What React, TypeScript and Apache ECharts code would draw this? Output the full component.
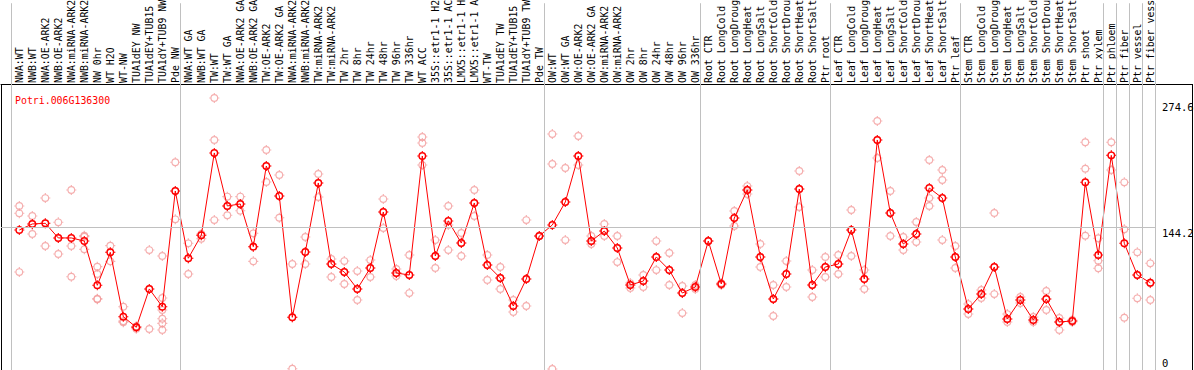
import React, { useEffect, useRef } from 'react';
import * as echarts from 'echarts';

const geneId = 'Potri.006G136300';

const categories = [
  'NWA:WT', 'NWB:WT', 'NWA:OE-ARK2', 'NWB:OE-ARK2', 'NWA:miRNA-ARK2', 'NWB:miRNA-ARK2',
  'NW 0hr', 'WT H2O', 'WT-NW', 'TUA1dEY NW', 'TUA1dEY+TUB15 NW', 'TUA1dY+TUB9 NW', 'Pde NW',
  'NWA:WT GA', 'NWB:WT GA', 'TW:WT', 'TW:WT GA', 'NWA:OE-ARK2 GA', 'NWB:OE-ARK2 GA',
  'TW:OE-ARK2', 'TW:OE-ARK2 GA', 'NWA:miRNA-ARK2 GA', 'NWB:miRNA-ARK2 GA', 'TW:miRNA-ARK2',
  'TW:miRNA-ARK2 GA', 'TW 2hr', 'TW 8hr', 'TW 24hr', 'TW 48hr', 'TW 96hr', 'TW 336hr',
  'WT ACC', '35S::etr1-1 H2O', '35S::etr1-1 ACC', 'LMX5::etr1-1 H2O', 'LMX5::etr1-1 ACC',
  'WT-TW', 'TUA1dEY TW', 'TUA1dEY+TUB15 TW', 'TUA1dY+TUB9 TW', 'Pde TW',
  'OW:WT', 'OW:WT GA', 'OW:OE-ARK2', 'OW:OE-ARK2 GA', 'OW:miRNA-ARK2', 'OW:miRNA-ARK2 GA',
  'OW 2hr', 'OW 8hr', 'OW 24hr', 'OW 48hr', 'OW 96hr', 'OW 336hr',
  'Root CTR', 'Root LongCold', 'Root LongDrought', 'Root LongHeat', 'Root LongSalt',
  'Root ShortCold', 'Root ShortDrought', 'Root ShortHeat', 'Root ShortSalt', 'Ptr root',
  'Leaf CTR', 'Leaf LongCold', 'Leaf LongDrought', 'Leaf LongHeat', 'Leaf LongSalt',
  'Leaf ShortCold', 'Leaf ShortDrought', 'Leaf ShortHeat', 'Leaf ShortSalt', 'Ptr leaf',
  'Stem CTR', 'Stem LongCold', 'Stem LongDrought', 'Stem LongHeat', 'Stem LongSalt',
  'Stem ShortCold', 'Stem ShortDrought', 'Stem ShortHeat', 'Stem ShortSalt',
  'Ptr shoot', 'Ptr xylem', 'Ptr phloem', 'Ptr fiber', 'Ptr vessel', 'Ptr fiber vessel',
];

const means = [
  141.3, 147.4, 148.1, 133.3, 133.3, 130.2, 85.5, 118.8, 53.8, 43.1,
  81.8, 63.9, 180.7, 112.8, 136.0, 219.1, 165.6, 167.6, 124.5, 205.9,
  175.7, 53.2, 119.1, 188.8, 107.0, 98.9, 81.8, 103.0, 159.5, 97.9,
  95.9, 216.0, 115.1, 150.4, 128.2, 168.6, 106.0, 92.9, 64.6, 91.9,
  135.3, 146.4, 169.6, 216.0, 130.2, 140.3, 123.2, 85.8, 89.8, 114.1,
  100.9, 77.7, 83.8, 130.2, 86.8, 153.4, 181.7, 114.1, 71.7, 96.9,
  182.7, 85.8, 104.0, 107.0, 141.3, 91.9, 232.2, 158.5, 127.2, 137.3,
  183.7, 173.6, 114.1, 61.6, 76.7, 104.0, 51.5, 70.7, 50.5, 71.7,
  48.5, 49.5, 189.5, 116.1, 216.7, 127.9, 95.9, 88.1,
];

const replicates = [
  [165.6, 158.2, 98.9], [155.5, 137.3, 147.4], [173.6, 125.2, 148.1], [149.1, 117.1, 133.3],
  [181.7, 125.2, 94.2], [135.6, 121.8, 134.6], [104.3, 96.9, 72.0, 71.4], [125.5, 109.7, 118.8],
  [63.9, 48.2, 49.3], [43.7, 41.7, 43.9], [121.1, 41.4, 81.8], [115.1, 72.7, 60.6, 51.8, 47.1, 40.4],
  [209.7, 152.1, 180.7], [127.9, 96.9, 112.8], [137.3, 132.5, 136.0], [274.6, 232.2, 151.4],
  [175.0, 156.2, 165.6], [175.0, 160.8, 167.6], [138.0, 109.7, 124.5], [222.1, 189.8, 205.9],
  [196.9, 153.7, 175.7], [107.0, 1.3, 53.2], [134.3, 107.0, 119.1], [197.9, 174.6, 188.8],
  [112.1, 93.9, 107.0], [110.0, 86.8, 98.9], [99.9, 70.7, 81.8], [111.0, 93.9, 103.0],
  [172.6, 143.3, 159.5], [102.0, 94.9, 97.9], [116.1, 77.7, 95.9], [235.2, 229.2, 206.9],
  [131.2, 103.0, 115.1], [165.6, 146.4, 121.1], [138.3, 115.1, 128.2], [181.7, 155.5, 168.6],
  [116.1, 90.9, 106.0], [104.0, 81.8, 92.9], [70.7, 58.6, 64.6], [151.4, 64.6, 91.9],
  [135.3, 135.3, 135.3], [238.2, 208.0, 1.0], [203.9, 131.2, 169.6], [236.2, 206.9, 216.0],
  [135.3, 127.2, 130.2], [147.4, 135.3, 140.3], [135.3, 109.0, 123.2], [87.8, 82.8, 85.8],
  [95.9, 83.8, 89.8], [130.2, 100.9, 114.1], [118.1, 85.8, 100.9], [84.8, 57.5, 77.7],
  [85.8, 81.8, 83.8], [130.2, 130.2, 130.2], [87.8, 85.8, 86.8], [160.5, 145.4, 153.4],
  [185.7, 177.7, 181.7], [127.2, 104.0, 114.1], [85.8, 54.5, 71.7], [110.0, 83.8, 96.9],
  [200.9, 164.5, 182.7], [100.9, 73.7, 85.8], [114.1, 93.9, 104.0], [116.1, 96.9, 107.0],
  [161.5, 115.1, 141.3], [100.9, 81.8, 91.9], [251.4, 214.0, 232.2], [180.7, 135.3, 158.5],
  [134.3, 121.1, 127.2], [149.4, 129.2, 137.3], [212.0, 173.6, 165.6], [201.9, 191.8, 131.2],
  [125.2, 103.0, 114.1], [66.6, 56.5, 61.6], [80.8, 72.7, 76.7], [158.5, 76.7, 104.0],
  [56.5, 48.5, 51.5], [73.7, 67.6, 70.7], [53.5, 48.5, 50.5], [79.8, 60.6, 71.7],
  [52.5, 40.4, 48.5], [50.5, 48.5, 49.5], [229.9, 203.2, 135.6], [133.0, 110.3, 102.7],
  [229.9, 201.9, 216.7], [189.5, 142.0, 52.8], [118.8, 72.4, 95.9], [107.7, 87.5, 70.7],
];

// group separators (category-index units) and the reference values printed on the right
const groupBoundaries = [-0.64, 12.36, 40.36, 52.36, 62.36, 72.36, 83.36, 84.36, 85.36, 86.36, 87.36];
const refValues = [0, 144.2, 274.6];

// axis extents (category index units on x, expression on y)
const X_MAIN_MIN = -1.408;
const X_MAIN_MAX = 90.208;
const X_HEAD_MIN = -1;
const X_HEAD_MAX = 90;
const Y_MIN = 0;
const Y_MAX = 288.7;
const REF_END = 87.36;

const MONO = 'DejaVu Sans Mono';

const repSymbol =
  'path://M3 10A7 7 0 1 0 17 10A7 7 0 1 0 3 10ZM5 10A5 5 0 1 1 15 10A5 5 0 1 1 5 10ZM9 1H11V3H9ZM9 17H11V19H9ZM1 9H3V11H1ZM17 9H19V11H17Z';
const meanSymbol =
  'path://M2.5 10A7.5 7.5 0 1 0 17.5 10A7.5 7.5 0 1 0 2.5 10ZM5.2 10A4.8 4.8 0 1 1 14.8 10A4.8 4.8 0 1 1 5.2 10ZM9 0.5H11V2.5H9ZM9 17.5H11V19.5H9ZM0.5 9H2.5V11H0.5ZM17.5 9H19.5V11H17.5Z';

export default function App() {
  const ref = useRef<HTMLDivElement>(null);

  useEffect(() => {
    document.body.style.margin = '0';
    document.body.style.overflow = 'hidden';
    if (!ref.current) return;
    const chart = echarts.init(ref.current, undefined, { renderer: 'svg' });

    const repData: number[][] = [];
    replicates.forEach((reps, i) => reps.forEach((v) => repData.push([i, v])));
    const meanData = means.map((v, i) => [i, v]);
    const headLabels = ['', ...categories, '', '', ''];

    // label placement for the printed reference values
    const labelPlace: Record<string, { pos: string; d: number }> = {
      '0': { pos: 'insideStartTop', d: 1.4 },
      '144.2': { pos: 'insideStartBottom', d: 0 },
      '274.6': { pos: 'insideStartBottom', d: 3.5 },
    };
    const labelLeftPx = 1162;

    const refLabelLines = refValues.map((v) => {
      const p = labelPlace[String(v)];
      const startX = (labelLeftPx - p.d - 19.3) / 13;
      return [
        {
          coord: [startX, v],
          lineStyle: { color: 'rgba(0,0,0,0)', width: 1 },
          label: {
            show: true,
            position: p.pos,
            distance: p.d,
            formatter: String(v),
            color: '#000',
            fontFamily: MONO,
            fontSize: 10.5,
          },
        },
        { coord: [X_MAIN_MAX, v] },
      ];
    });

    const blackLine = { color: '#000', width: 1, type: 'solid' };

    const option: any = {
      animation: false,
      backgroundColor: '#ffffff',
      title: {
        text: geneId,
        left: 10,
        top: 90,
        textStyle: { color: '#ff0000', fontFamily: MONO, fontSize: 9.9, fontWeight: 'normal' },
      },
      grid: [
        { left: 1, right: 2, top: 84, bottom: 0, containLabel: false },
        { left: 6.3, right: 4.7, top: 0, height: 84, containLabel: false },
      ],
      xAxis: [
        {
          gridIndex: 0,
          type: 'value',
          position: 'top',
          min: X_MAIN_MIN,
          max: X_MAIN_MAX,
          axisLine: { show: true, onZero: false, lineStyle: { color: '#000', width: 1 } },
          axisTick: { show: false },
          axisLabel: { show: false },
          splitLine: { show: false },
        },
        {
          gridIndex: 1,
          type: 'value',
          position: 'top',
          min: X_HEAD_MIN,
          max: X_HEAD_MAX,
          show: false,
        },
        {
          gridIndex: 1,
          type: 'category',
          position: 'bottom',
          data: headLabels,
          boundaryGap: false,
          axisLine: { show: false, onZero: false },
          axisTick: { show: false },
          splitLine: { show: false },
          axisLabel: {
            inside: true,
            interval: 0,
            rotate: 90,
            margin: 1,
            color: '#000',
            fontFamily: MONO,
            fontSize: 9.9,
            width: 88,
            overflow: 'truncate',
            ellipsis: '',
          },
        },
      ],
      yAxis: [
        { gridIndex: 0, type: 'value', min: Y_MIN, max: Y_MAX, show: false },
        { gridIndex: 1, type: 'value', min: 0, max: 1, show: false },
      ],
      series: [
        {
          type: 'scatter',
          name: 'guides',
          xAxisIndex: 0,
          yAxisIndex: 0,
          data: [],
          silent: true,
          z: 1,
          markLine: {
            silent: true,
            symbol: ['none', 'none'],
            animation: false,
            label: { show: false },
            lineStyle: { color: '#c0c0c0', width: 1, type: 'solid' },
            data: [
              ...groupBoundaries.map((b) => ({ xAxis: b })),
              [{ coord: [X_MAIN_MIN, Y_MAX], lineStyle: blackLine }, { coord: [X_MAIN_MIN, Y_MIN] }],
              [{ coord: [X_MAIN_MAX, Y_MAX], lineStyle: blackLine }, { coord: [X_MAIN_MAX, Y_MIN] }],
              [{ coord: [X_MAIN_MIN, refValues[1]] }, { coord: [REF_END, refValues[1]] }],
              ...refLabelLines,
            ],
          },
        },
        {
          type: 'scatter',
          name: 'header guides',
          xAxisIndex: 1,
          yAxisIndex: 1,
          data: [],
          silent: true,
          markLine: {
            silent: true,
            symbol: ['none', 'none'],
            animation: false,
            label: { show: false },
            lineStyle: { color: '#c0c0c0', width: 1, type: 'solid' },
            data: groupBoundaries.map((b) => ({ xAxis: b })),
          },
        },
        {
          type: 'scatter',
          name: 'replicates',
          xAxisIndex: 0,
          yAxisIndex: 0,
          data: repData,
          symbol: repSymbol,
          symbolSize: 10,
          itemStyle: { color: '#f29a9a' },
          silent: true,
          z: 2,
        },
        {
          type: 'line',
          name: 'mean',
          xAxisIndex: 0,
          yAxisIndex: 0,
          data: meanData,
          symbol: meanSymbol,
          symbolSize: 10,
          showAllSymbol: true,
          itemStyle: { color: '#ff0000' },
          lineStyle: { color: '#ff0000', width: 1 },
          silent: true,
          z: 3,
        },
      ],
    };

    chart.setOption(option);
    return () => chart.dispose();
  }, []);

  return <div ref={ref} style={{ width: 1194, height: 370 }} />;
}
